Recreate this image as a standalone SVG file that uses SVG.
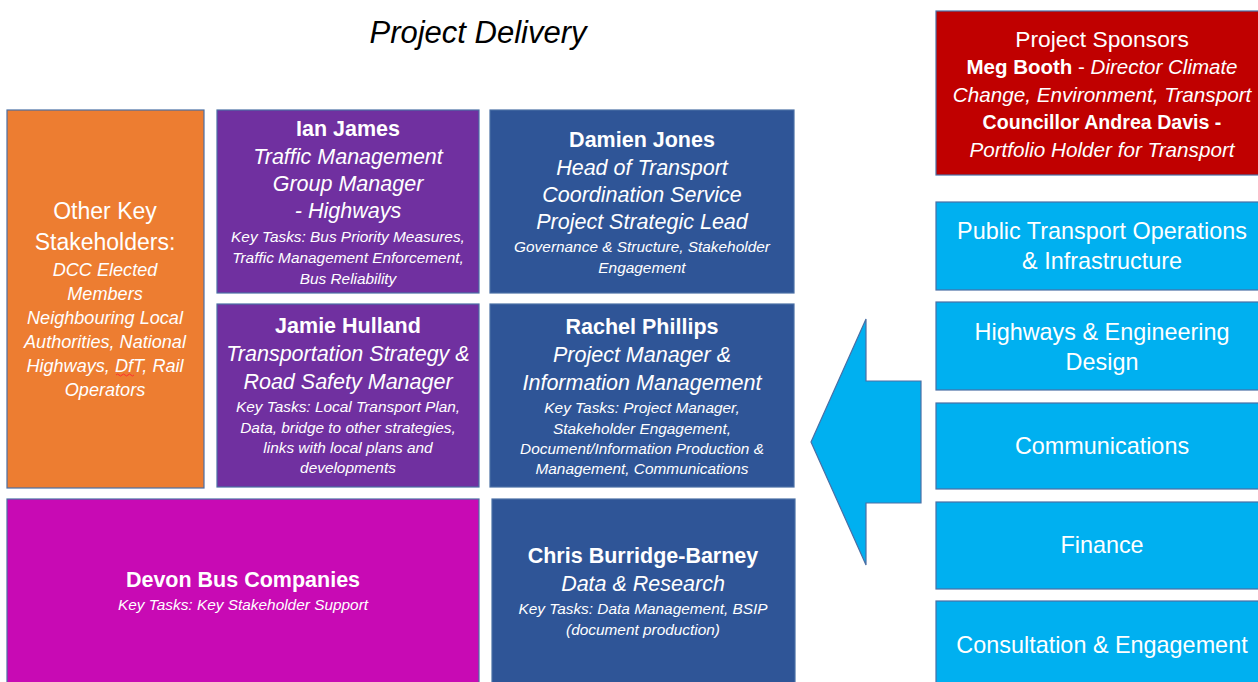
<svg xmlns="http://www.w3.org/2000/svg" width="1258" height="682" viewBox="0 0 1258 682">
  <style>
    text { font-family: "Liberation Sans", Arial, sans-serif; fill: #ffffff; text-anchor: middle; }
    .box { stroke: #4a6fa5; stroke-width: 1.2; }
    .orange { fill: #ed7d31; }
    .purple { fill: #7030a0; }
    .navy { fill: #2f5597; }
    .magenta { fill: #c80ab4; }
    .red { fill: #c00000; }
    .cyan { fill: #00b0f0; }
    .name { font-weight: bold; font-size: 21.5px; }
    .role { font-style: italic; font-size: 21.5px; }
    .task { font-style: italic; font-size: 15.4px; }
    .head { font-size: 23px; }
    .team { font-size: 23.4px; }
    .sub { font-style: italic; font-size: 18.1px; }
  </style>

  <!-- subtitle -->
  <text x="478" y="43" style="fill:#000000;font-style:italic;font-size:31px">Project Delivery</text>

  <g id="other-stakeholders">
    <rect class="box orange" x="7" y="110" width="197" height="378"/>
    <text class="head" x="105" y="219">Other Key</text>
    <text class="head" x="105" y="250">Stakeholders:</text>
    <text class="sub" x="105" y="276">DCC Elected</text>
    <text class="sub" x="105" y="300">Members</text>
    <text class="sub" x="105" y="324">Neighbouring Local</text>
    <text class="sub" x="105" y="348">Authorities, National</text>
    <text class="sub" x="105" y="372">Highways, DfT, Rail</text>
    <text class="sub" x="105" y="396">Operators</text>
    <path d="M116 375 q1.5 -2 3 0 t3 0 t3 0 t3 0 t3 0 t3 0" fill="none" stroke="#ff3030" stroke-width="1"/>
  </g>

  <g id="ian-james">
    <rect class="box purple" x="217" y="110" width="262" height="183"/>
    <text class="name" x="348" y="136">Ian James</text>
    <text class="role" x="348" y="164">Traffic Management</text>
    <text class="role" x="348" y="191">Group Manager</text>
    <text class="role" x="348" y="218">- Highways</text>
    <text class="task" x="348" y="242">Key Tasks: Bus Priority Measures,</text>
    <text class="task" x="348" y="263">Traffic Management Enforcement,</text>
    <text class="task" x="348" y="284">Bus Reliability</text>
  </g>

  <g id="jamie-hulland">
    <rect class="box purple" x="217" y="304" width="262" height="183"/>
    <text class="name" x="348" y="333">Jamie Hulland</text>
    <text class="role" x="348" y="361">Transportation Strategy &amp;</text>
    <text class="role" x="348" y="389">Road Safety Manager</text>
    <text class="task" x="348" y="412">Key Tasks: Local Transport Plan,</text>
    <text class="task" x="348" y="433">Data, bridge to other strategies,</text>
    <text class="task" x="348" y="453">links with local plans and</text>
    <text class="task" x="348" y="473">developments</text>
  </g>

  <g id="damien-jones">
    <rect class="box navy" x="490" y="110" width="304" height="183"/>
    <text class="name" x="642" y="147">Damien Jones</text>
    <text class="role" x="642" y="175">Head of Transport</text>
    <text class="role" x="642" y="202">Coordination Service</text>
    <text class="role" x="642" y="229">Project Strategic Lead</text>
    <text class="task" x="642" y="252">Governance &amp; Structure, Stakeholder</text>
    <text class="task" x="642" y="273">Engagement</text>
  </g>

  <g id="rachel-phillips">
    <rect class="box navy" x="490" y="304" width="304" height="183"/>
    <text class="name" x="642" y="334">Rachel Phillips</text>
    <text class="role" x="642" y="362">Project Manager &amp;</text>
    <text class="role" x="642" y="390">Information Management</text>
    <text class="task" x="642" y="413">Key Tasks: Project Manager,</text>
    <text class="task" x="642" y="434">Stakeholder Engagement,</text>
    <text class="task" x="642" y="454">Document/Information Production &amp;</text>
    <text class="task" x="642" y="474">Management, Communications</text>
  </g>

  <g id="devon-bus-companies">
    <rect class="box magenta" x="7" y="499" width="472" height="190"/>
    <text class="name" x="243" y="587">Devon Bus Companies</text>
    <text class="task" x="243" y="610">Key Tasks: Key Stakeholder Support</text>
  </g>

  <g id="chris-burridge-barney">
    <rect class="box navy" x="492" y="499" width="303" height="190"/>
    <text class="name" x="643" y="563">Chris Burridge-Barney</text>
    <text class="role" x="643" y="591">Data &amp; Research</text>
    <text class="task" x="643" y="614">Key Tasks: Data Management, BSIP</text>
    <text class="task" x="643" y="635">(document production)</text>
  </g>

  <g id="project-sponsors">
    <rect class="box red" x="936" y="11" width="330" height="164"/>
    <text x="1102" y="47" font-size="22.8">Project Sponsors</text>
    <text x="1102" y="74" font-size="20.5"><tspan font-weight="bold">Meg Booth</tspan> - <tspan font-style="italic">Director Climate</tspan></text>
    <text x="1102" y="102" font-size="20.7" font-style="italic">Change, Environment, Transport</text>
    <text x="1102" y="129" font-size="19.6" font-weight="bold">Councillor Andrea Davis -</text>
    <text x="1102" y="157" font-size="20.7" font-style="italic">Portfolio Holder for Transport</text>
  </g>

  <g id="public-transport">
    <rect class="box cyan" x="936" y="202" width="330" height="88"/>
    <text class="team" x="1102" y="239">Public Transport Operations</text>
    <text class="team" x="1102" y="269">&amp; Infrastructure</text>
  </g>

  <g id="highways-engineering">
    <rect class="box cyan" x="936" y="302" width="330" height="88"/>
    <text class="team" x="1102" y="340">Highways &amp; Engineering</text>
    <text class="team" x="1102" y="370">Design</text>
  </g>

  <g id="communications">
    <rect class="box cyan" x="936" y="403" width="330" height="86"/>
    <text class="team" x="1102" y="454">Communications</text>
  </g>

  <g id="finance">
    <rect class="box cyan" x="936" y="502" width="330" height="87"/>
    <text class="team" x="1102" y="553">Finance</text>
  </g>

  <g id="consultation-engagement">
    <rect class="box cyan" x="936" y="601" width="330" height="90"/>
    <text class="team" x="1102" y="653">Consultation &amp; Engagement</text>
  </g>

  <g id="connectors">
    <!-- block arrow pointing from the service teams to the delivery team -->
    <polygon class="box cyan" points="811,442 866,319 866,381 921,381 921,503 866,503 866,565"/>
  </g>
</svg>
